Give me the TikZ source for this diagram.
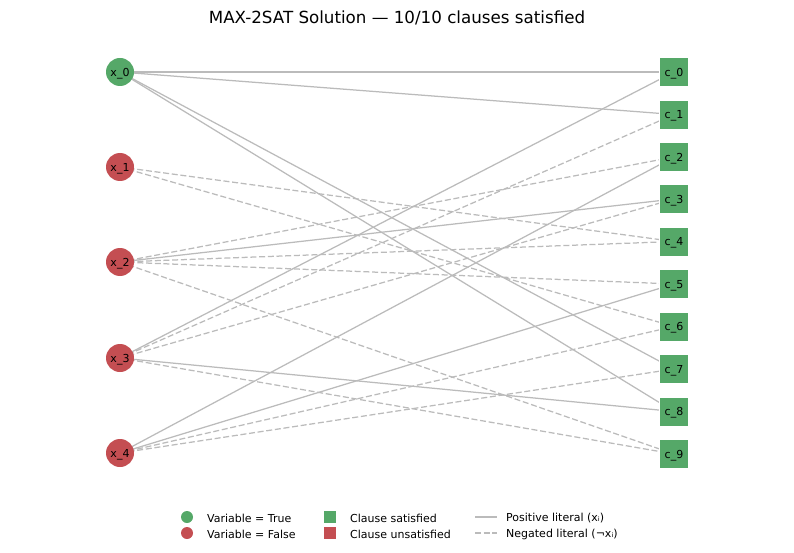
\documentclass[tikz,border=0pt]{standalone}
\usepackage{fontspec}
\setmainfont{DejaVu Sans}
\usetikzlibrary{backgrounds}
\definecolor{vtrue}{HTML}{55A868}
\definecolor{vfalse}{HTML}{C44E52}
\definecolor{edgegray}{HTML}{BBBBBB}
\begin{document}
\begin{tikzpicture}[x=1pt,y=-1pt,
  varnode/.style={circle,minimum size=28pt,inner sep=0pt,text depth=0pt,font=\fontsize{11}{13}\selectfont,text=black},
  clnode/.style={rectangle,fill=vtrue,draw=white,line width=0.5pt,minimum size=29pt,inner sep=0pt,text depth=0pt,font=\fontsize{11}{13}\selectfont,text=black},
  poslit/.style={draw=edgegray,line width=1.25pt},
  neglit/.style={draw=edgegray,line width=1.25pt,dash pattern=on 6pt off 2.7pt},
  legtext/.style={anchor=west,font=\fontsize{11}{13}\selectfont,inner sep=0pt}]
\useasboundingbox (0,0) rectangle (794,553);
\node[font=\fontsize{16.7}{19}\selectfont] (title) at (397,18) {MAX-2SAT Solution — 10/10 clauses satisfied};
% variables
\node[varnode,fill=vtrue]  (x0) at (120,72)  {x\_0};
\node[varnode,fill=vfalse] (x1) at (120,167) {x\_1};
\node[varnode,fill=vfalse] (x2) at (120,262) {x\_2};
\node[varnode,fill=vfalse] (x3) at (120,358) {x\_3};
\node[varnode,fill=vfalse] (x4) at (120,453) {x\_4};
% clauses
\foreach \i/\y in {0/72,1/114.5,2/157,3/199,4/241.5,5/284,6/326.5,7/369,8/411.5,9/454}{
  \node[clnode] (c\i) at (674,\y) {c\_\i};
}
\begin{scope}[on background layer]
\draw[poslit] (x0.center) -- (c0.center);
\draw[poslit] (x0.center) -- (c1.center);
\draw[poslit] (x0.center) -- (c7.center);
\draw[poslit] (x0.center) -- (c8.center);
\draw[neglit] (x1.center) -- (c4.center);
\draw[neglit] (x1.center) -- (c6.center);
\draw[neglit] (x2.center) -- (c2.center);
\draw[poslit] (x2.center) -- (c3.center);
\draw[neglit] (x2.center) -- (c4.center);
\draw[neglit] (x2.center) -- (c5.center);
\draw[neglit] (x2.center) -- (c9.center);
\draw[poslit] (x3.center) -- (c0.center);
\draw[neglit] (x3.center) -- (c1.center);
\draw[neglit] (x3.center) -- (c3.center);
\draw[poslit] (x3.center) -- (c8.center);
\draw[neglit] (x3.center) -- (c9.center);
\draw[poslit] (x4.center) -- (c2.center);
\draw[poslit] (x4.center) -- (c5.center);
\draw[neglit] (x4.center) -- (c6.center);
\draw[neglit] (x4.center) -- (c7.center);
\end{scope}
% legend
\node[circle,fill=vtrue,minimum size=12pt,inner sep=0pt] (lg1) at (187,517) {};
\node[legtext] (lt1) at (207,518) {Variable = True};
\node[circle,fill=vfalse,minimum size=12pt,inner sep=0pt] (lg2) at (187,533) {};
\node[legtext] (lt2) at (207,534) {Variable = False};
\node[rectangle,fill=vtrue,minimum size=12pt,inner sep=0pt] (lg3) at (330,517) {};
\node[legtext] (lt3) at (350,518) {Clause satisfied};
\node[rectangle,fill=vfalse,minimum size=12pt,inner sep=0pt] (lg4) at (330,533) {};
\node[legtext] (lt4) at (350,534) {Clause unsatisfied};
\coordinate (la1) at (475,517);
\coordinate (lb1) at (497,517);
\draw[poslit] (la1) -- (lb1);
\node[legtext] (lt5) at (506,518) {Positive literal (xᵢ)};
\coordinate (la2) at (475,533);
\coordinate (lb2) at (497,533);
\draw[neglit] (la2) -- (lb2);
\node[legtext] (lt6) at (506,534) {Negated literal (¬xᵢ)};
\end{tikzpicture}
\end{document}
